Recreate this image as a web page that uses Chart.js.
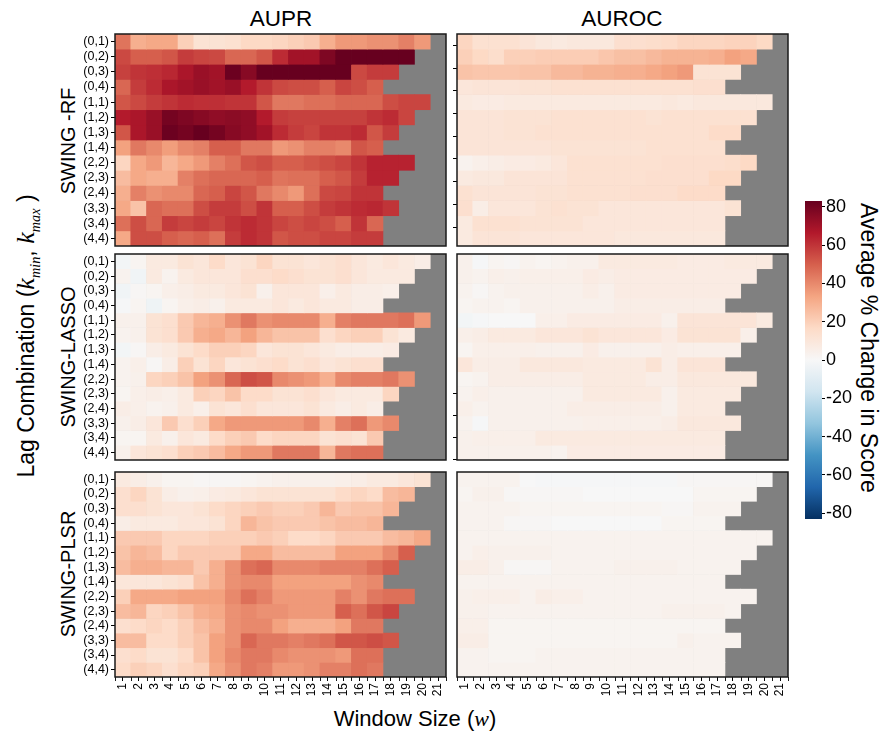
<!DOCTYPE html>
<html>
<head>
<meta charset="utf-8">
<script src="https://cdn.jsdelivr.net/npm/chart.js@4.4.1/dist/chart.umd.min.js"></script>
<style>
  body { margin: 0; background: #fff; }
  #page { position: relative; width: 888px; height: 744px; overflow: hidden; font-family: "Liberation Sans", Arial, sans-serif; color: #000; }
  canvas { position: absolute; }
  .t { position: absolute; white-space: nowrap; transform: translate(-50%, -50%); line-height: 1; }
  .rl { transform: translate(-50%, -50%) rotate(-90deg); }
  .rr { transform: translate(-50%, -50%) rotate(90deg); }
  .m { font-family: "Liberation Serif", "DejaVu Serif", serif; font-style: italic; }
  .m sub { font-size: 55%; }
</style>
</head>
<body>
<div id="page">
  <div class="t" style="left:281px;top:19px;font-size:22.5px">AUPR</div>
  <div class="t" style="left:622px;top:19px;font-size:22.5px">AUROC</div>
  <div class="t rl" style="left:68px;top:141px;font-size:20px">SWING -RF</div>
  <div class="t rl" style="left:68px;top:357px;font-size:20px">SWING-LASSO</div>
  <div class="t rl" style="left:68px;top:574px;font-size:20px">SWING-PLSR</div>
  <div class="t rl" style="left:28px;top:336px;font-size:23px">Lag Combination (<span class="m" style="font-size:26px">k<sub>min</sub></span>, <span class="m" style="font-size:26px">k<sub>max</sub></span> )</div>
  <div class="t" style="left:415px;top:719px;font-size:22px">Window Size (<span class="m">w</span>)</div>
  <div class="t rr" style="left:868px;top:348px;font-size:23px">Average % Change in Score</div>
</div>
<script>
// window sizes on x, lag combinations (k_min, k_max) on y
const windowSizes = ['1','2','3','4','5','6','7','8','9','10','11','12','13','14','15','16','17','18','19','20','21'];
const lagLabels = ['(0,1)','(0,2)','(0,3)','(0,4)','(1,1)','(1,2)','(1,3)','(1,4)','(2,2)','(2,3)','(2,4)','(3,3)','(3,4)','(4,4)'];
const cbarTicks = [-80, -60, -40, -20, 0, 20, 40, 60, 80];
const vmax = 83;

// average % change, one row per lag combination; rows stop at the largest valid window
const rfAupr = [
  [45,30,32,32,20,12,12,13,17,17,18,20,22,30,36,36,38,38,42,36],
  [55,50,50,52,58,56,55,48,48,52,62,70,70,78,85,85,85,85,85],
  [57,60,61,63,68,72,70,82,76,85,85,85,85,85,85,55,58,58],
  [48,58,62,68,70,72,70,72,66,60,55,54,54,50,56,54,50],
  [52,55,58,60,62,61,61,60,60,52,44,44,46,46,48,48,48,54,56,56],
  [66,68,72,80,78,76,74,75,74,66,58,57,57,57,57,57,60,62,56],
  [52,68,72,82,80,84,80,76,74,70,62,58,56,60,60,62,52,58],
  [34,44,40,35,40,42,50,50,44,44,36,38,42,42,40,52,50],
  [18,32,36,28,32,36,42,46,52,54,50,50,52,54,56,60,64,64,64],
  [26,32,30,30,42,46,48,48,48,50,45,46,46,50,52,58,64,64],
  [30,42,38,40,40,48,50,56,52,44,40,36,46,55,56,60,60],
  [32,24,48,46,46,54,58,58,54,60,50,50,54,58,60,62,63,60],
  [46,54,48,58,56,58,56,60,62,60,56,54,56,54,50,60,48],
  [32,54,54,50,48,50,46,58,62,60,52,54,54,56,56,58,58]
];
const rfAuroc = [
  [18,13,13,13,11,9,8,9,9,9,14,14,15,16,18,18,18,19,19,17],
  [20,17,15,20,20,21,21,21,21,23,25,25,27,29,29,29,30,34,32],
  [24,23,23,23,24,24,27,27,29,29,30,30,32,34,36,12,12,12],
  [10,11,11,11,12,12,13,13,13,13,13,13,13,13,13,14,14],
  [8,7,7,8,8,8,8,8,8,8,8,8,8,9,8,9,9,9,9,9],
  [11,11,11,12,12,12,13,13,13,13,13,13,12,13,13,13,13,13,13],
  [11,11,11,12,12,13,13,13,13,13,13,13,13,13,13,13,16,16],
  [11,11,11,11,11,11,12,12,12,12,12,12,13,13,13,13,13],
  [3,5,6,7,7,8,10,13,13,13,13,13,13,14,14,14,14,15,17],
  [8,9,9,11,11,11,11,13,13,13,13,13,14,14,14,14,17,17],
  [13,11,11,11,11,12,12,13,13,13,13,14,14,14,16,16,16],
  [14,6,10,10,10,12,13,12,12,10,10,10,10,10,10,10,10,12],
  [8,13,13,13,12,12,12,12,10,10,10,10,10,10,10,10,10],
  [8,11,11,11,10,10,10,10,10,10,9,9,9,9,9,9,9]
];
const lassoAupr = [
  [-2,2,8,8,12,10,16,10,12,18,12,12,10,12,14,10,8,10,8,6],
  [3,-3,8,3,8,10,10,10,14,14,16,14,12,12,14,10,8,8,8],
  [-3,1,2,5,6,8,8,10,12,4,10,10,10,5,8,6,6,5],
  [-1,2,-4,2,5,6,4,8,8,8,10,8,10,8,8,6,6],
  [4,4,12,14,22,28,30,38,44,38,40,40,40,30,42,44,44,44,46,36],
  [3,4,12,14,22,30,32,28,34,28,24,24,24,14,18,20,20,12,8],
  [-2,1,6,8,12,16,20,20,18,10,12,12,10,8,6,6,6,7],
  [3,5,1,6,20,12,18,10,12,14,16,12,14,10,12,14,14],
  [3,4,18,20,24,34,38,48,54,52,40,38,36,30,40,42,42,44,38],
  [2,5,6,5,8,20,18,24,16,16,12,12,14,10,8,8,8,18],
  [6,5,3,4,8,5,12,10,14,10,10,10,12,8,6,8,6],
  [4,6,10,22,14,20,32,36,36,36,36,36,40,30,42,46,36,40],
  [2,2,8,4,10,8,16,20,22,16,18,18,18,12,14,12,22],
  [4,10,12,14,20,22,26,32,36,36,44,44,44,28,44,46,46]
];
const lassoAuroc = [
  [4,-1,2,1,3,2,3,4,4,8,8,8,8,8,7,7,7,8,8,8],
  [4,3,5,4,5,5,5,5,7,6,7,7,7,7,7,7,7,7,7],
  [3,1,3,4,4,4,4,4,6,4,7,7,7,7,7,7,7,7],
  [2,3,3,2,4,4,4,4,4,4,6,6,6,6,6,6,6],
  [-2,-1,0,0,0,5,5,7,7,7,7,7,7,4,11,11,11,11,11,8],
  [5,6,8,8,8,10,10,10,12,10,10,10,10,7,12,12,12,12,5],
  [2,5,5,5,5,4,4,4,7,4,4,4,4,6,5,5,5,5],
  [10,6,6,6,9,9,9,9,8,8,8,8,12,6,11,11,11],
  [2,3,6,6,6,6,6,6,8,8,8,8,6,6,9,9,9,9,9],
  [3,5,4,4,4,4,4,4,8,8,8,8,8,4,8,8,8,8],
  [5,3,4,4,4,4,4,6,6,6,6,6,6,4,8,8,8],
  [3,-1,4,4,4,4,4,4,5,5,5,5,5,6,9,9,9,9],
  [4,5,5,5,5,8,8,8,8,8,8,8,8,8,8,8,8],
  [4,4,4,4,4,4,3,7,7,7,7,7,7,7,7,7,7]
];
const plsrAupr = [
  [8,6,4,2,2,1,1,1,2,3,4,4,4,4,5,6,8,8,10,12],
  [14,18,12,6,4,5,7,8,10,12,12,12,12,12,16,18,16,26,28],
  [14,14,12,10,10,12,16,18,20,22,20,20,22,28,22,24,24,28],
  [6,8,8,8,10,10,12,18,28,24,22,22,22,24,26,26,28],
  [22,22,22,18,18,18,20,20,20,22,20,16,16,18,22,22,22,26,28,32],
  [24,28,26,18,22,22,22,22,32,32,26,26,26,26,34,34,34,40,50],
  [26,30,30,28,28,22,30,38,46,48,40,40,40,42,42,42,46,50],
  [10,10,10,12,14,24,30,38,40,40,34,34,34,34,34,38,40],
  [20,32,32,32,34,34,34,40,46,42,36,36,36,36,42,38,44,46,46],
  [26,28,18,20,24,30,32,38,40,38,38,36,36,36,50,46,52,56],
  [14,16,18,16,20,26,30,38,40,40,34,30,30,30,34,44,44],
  [26,26,16,16,20,24,34,38,48,44,44,42,44,46,52,52,54,52],
  [14,16,12,12,16,24,34,40,44,44,40,38,38,38,36,46,46],
  [16,20,18,14,18,20,32,38,44,42,36,36,38,42,42,46,44]
];
const plsrAuroc = [
  [3,3,3,3,0,-1,-1,-1,-1,-1,-1,-1,-1,-1,1,1,1,1,1,1],
  [2,4,4,1,1,1,1,1,0,0,0,0,0,0,0,2,2,2,2],
  [3,3,3,3,2,2,2,2,2,2,2,2,2,1,1,3,3,3],
  [3,3,3,1,1,1,0,0,0,0,0,0,0,2,2,2,2],
  [3,3,3,3,3,3,3,3,3,3,3,3,3,3,3,3,3,3,3,3],
  [3,5,4,4,4,4,3,3,3,3,3,3,3,3,3,3,3,3,3],
  [6,6,4,1,1,1,3,3,3,3,4,4,4,4,3,3,3,3],
  [3,3,3,3,3,3,3,3,3,3,3,3,3,3,3,3,3],
  [4,5,5,5,3,6,5,5,3,3,3,3,3,3,3,3,3,3,3],
  [4,4,3,3,3,3,3,3,3,3,3,3,3,4,4,4,4,3],
  [5,5,2,2,2,2,2,2,2,2,2,2,2,2,2,2,2],
  [6,6,2,2,2,2,2,2,2,2,2,2,2,2,4,3,3,3],
  [3,3,2,2,2,3,3,3,3,3,3,3,3,3,3,3,3],
  [3,3,3,3,3,3,3,3,3,3,3,3,3,3,3,3,3]
];

// RdBu_r, blue (negative) -> red (positive)
const rdbu = ['#053061','#2166ac','#4393c3','#92c5de','#d1e5f0','#f7f7f7','#fddbc7','#f4a582','#d6604d','#b2182b','#67001f'];

function hexRgb(h) {
  return [1, 3, 5].map(i => parseInt(h.slice(i, i + 2), 16));
}
function heat(v) {
  const t = Math.max(0, Math.min(1, (v + vmax) / (2 * vmax))) * 10;
  const i = Math.min(9, Math.floor(t)), f = t - i;
  const a = hexRgb(rdbu[i]), b = hexRgb(rdbu[i + 1]);
  const c = a.map((x, k) => Math.round(x + (b[k] - x) * f));
  return `rgb(${c[0]},${c[1]},${c[2]})`;
}

Chart.defaults.font.family = '"Liberation Sans", Arial, sans-serif';
Chart.defaults.color = '#000';

const page = document.getElementById('page');
const panelCols = [{ left: 115, width: 331 }, { left: 457, width: 331 }];
const panelRows = [{ top: 34, height: 212 }, { top: 254, height: 206 }, { top: 472, height: 205 }];

// grey background for invalid windows, black frame, minor ticks on cell edges
const heatFrame = {
  id: 'heatFrame',
  beforeDatasetsDraw(chart) {
    const { ctx, chartArea: a } = chart;
    ctx.save();
    ctx.fillStyle = '#808080';
    ctx.fillRect(a.left, a.top, a.right - a.left, a.bottom - a.top);
    ctx.restore();
  },
  afterDraw(chart) {
    const { ctx, chartArea: a } = chart;
    ctx.save();
    ctx.strokeStyle = '#1a1a1a';
    ctx.lineWidth = 1.5;
    ctx.strokeRect(a.left, a.top, a.right - a.left, a.bottom - a.top);
    if (chart.options.scales.x.display) {
      const x = chart.scales.x;
      ctx.lineWidth = 1;
      ctx.beginPath();
      for (let i = 0; i <= windowSizes.length; i++) {
        const px = Math.round(x.getPixelForValue(i - 0.5)) + 0.5;
        ctx.moveTo(px, a.bottom);
        ctx.lineTo(px, a.bottom + 4);
      }
      ctx.stroke();
    }
    ctx.restore();
  }
};

function noOverflow(s) {
  s.paddingLeft = 0;
  s.paddingRight = 0;
  s.paddingTop = 0;
  s.paddingBottom = 0;
}

function heatmap(values, col, row, opts) {
  const yW = 52, padT = 3, padR = 3;
  const xH = opts.windows ? 40 : 0, padB = opts.windows ? 0 : 3;
  const c = panelCols[col], r = panelRows[row];
  const cv = document.createElement('canvas');
  cv.width = yW + c.width + padR;
  cv.height = padT + r.height + xH + padB;
  cv.style.left = (c.left - yW) + 'px';
  cv.style.top = (r.top - padT) + 'px';
  page.appendChild(cv);

  const datasets = values.map((vals, k) => ({
    data: windowSizes.map((w, i) => vals[i] === undefined ? null : [k, k + 1]),
    backgroundColor: windowSizes.map((w, i) => vals[i] === undefined ? 'rgba(0,0,0,0)' : heat(vals[i])),
    borderWidth: 0,
    grouped: false,
    barPercentage: 1,
    categoryPercentage: 1
  }));

  new Chart(cv, {
    type: 'bar',
    data: { labels: windowSizes, datasets },
    options: {
      responsive: false,
      animation: false,
      devicePixelRatio: 1,
      events: [],
      layout: { padding: { top: padT, right: padR, bottom: padB, left: 0 } },
      plugins: { legend: { display: false }, tooltip: { enabled: false } },
      scales: {
        x: {
          display: opts.windows,
          grid: { display: true, drawOnChartArea: false, offset: false, tickLength: 4, color: '#000' },
          border: { display: false },
          ticks: { autoSkip: false, minRotation: 90, maxRotation: 90, padding: 2, font: { size: 12 } },
          afterFit: s => { s.height = xH; noOverflow(s); }
        },
        y: {
          type: 'linear',
          min: 0,
          max: lagLabels.length,
          reverse: true,
          grid: { display: opts.sideTicks.length > 0, drawOnChartArea: false, tickLength: 4, color: '#000' },
          border: { display: false },
          afterBuildTicks: s => { s.ticks = opts.sideTicks.map(v => ({ value: v })); },
          ticks: {
            display: opts.lags,
            autoSkip: false,
            padding: 2,
            font: { size: 12.5 },
            callback: v => lagLabels[Math.floor(v)]
          },
          afterFit: s => { s.width = yW; noOverflow(s); }
        }
      }
    },
    plugins: [heatFrame]
  });
}

const rowCentres = lagLabels.map((l, i) => i + 0.5);
heatmap(rfAupr, 0, 0, { lags: true, windows: false, sideTicks: rowCentres });
heatmap(rfAuroc, 1, 0, { lags: false, windows: false, sideTicks: [0.75, 2.25, 3.75, 5.25, 6.75, 8.25, 9.75, 11.25, 12.75] });
heatmap(lassoAupr, 0, 1, { lags: true, windows: false, sideTicks: rowCentres });
heatmap(lassoAuroc, 1, 1, { lags: false, windows: false, sideTicks: [9.5, 11, 12.5, 13.95] });
heatmap(plsrAupr, 0, 2, { lags: true, windows: true, sideTicks: rowCentres });
heatmap(plsrAuroc, 1, 2, { lags: false, windows: true, sideTicks: [] });

// colour bar
(function () {
  const barW = 17, axW = 45, padT = 10, padB = 10, h = 318;
  const cv = document.createElement('canvas');
  cv.width = barW + axW;
  cv.height = padT + h + padB;
  cv.style.left = '805px';
  cv.style.top = (201 - padT) + 'px';
  page.appendChild(cv);
  new Chart(cv, {
    type: 'bar',
    data: {
      labels: [''],
      datasets: [{
        data: [[-vmax, vmax]],
        barPercentage: 1,
        categoryPercentage: 1,
        borderWidth: 0,
        backgroundColor: ctx => {
          const a = ctx.chart.chartArea;
          if (!a) return null;
          const g = ctx.chart.ctx.createLinearGradient(0, a.bottom, 0, a.top);
          rdbu.forEach((col, i) => g.addColorStop(i / (rdbu.length - 1), col));
          return g;
        }
      }]
    },
    options: {
      responsive: false,
      animation: false,
      devicePixelRatio: 1,
      events: [],
      layout: { padding: { top: padT, bottom: padB, left: 0, right: 0 } },
      plugins: { legend: { display: false }, tooltip: { enabled: false } },
      scales: {
        x: { display: false },
        y: {
          position: 'right',
          min: -vmax,
          max: vmax,
          grid: { display: true, drawOnChartArea: false, tickLength: 3, color: '#000' },
          border: { display: false },
          afterBuildTicks: s => { s.ticks = cbarTicks.map(v => ({ value: v })); },
          ticks: { padding: 1, font: { size: 18 } },
          afterFit: s => { s.width = axW; noOverflow(s); }
        }
      }
    }
  });
})();
</script>
</body>
</html>
